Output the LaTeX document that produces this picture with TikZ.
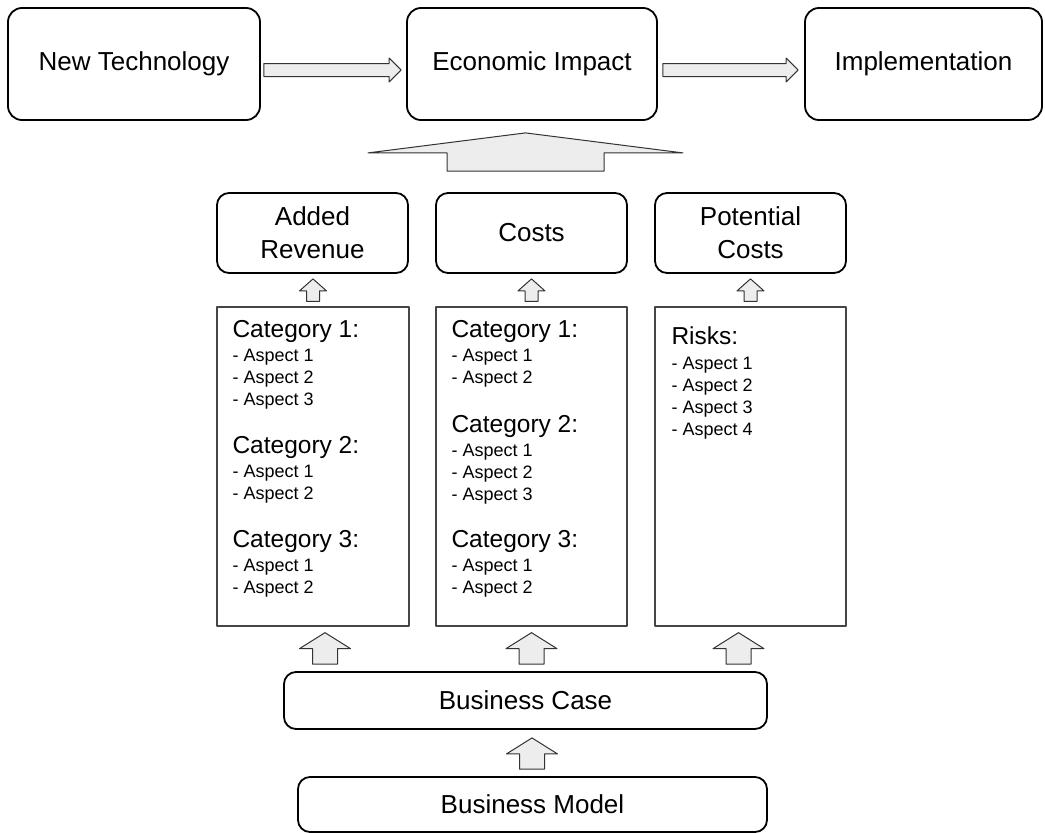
\documentclass[tikz,border=0pt]{standalone}
\usepackage{fontspec}
\setmainfont{Liberation Sans}
\usetikzlibrary{calc}
\definecolor{eeeeee}{rgb}{0.93,0.93,0.93}
\definecolor{sqsqsq}{rgb}{0.2,0.2,0.2}
\definecolor{zzzzzz}{rgb}{0.27,0.27,0.27}

% block arrows: #1 tail point, #2 tip point, #3 half shaft, #4 half head, #5 head length
\newcommand{\blockup}[5]{%
\draw[blockarrow] let \p1=(#1), \p2=(#2) in (\x1-#3,\y1) -- (\x1-#3,\y2-#5) -- (\x1-#4,\y2-#5) -- (\x1,\y2) -- (\x1+#4,\y2-#5) -- (\x1+#3,\y2-#5) -- (\x1+#3,\y1) -- cycle;}
\newcommand{\blockright}[5]{%
\draw[blockarrow] let \p1=(#1), \p2=(#2) in (\x1,\y1-#3) -- (\x2-#5,\y1-#3) -- (\x2-#5,\y1-#4) -- (\x2,\y1) -- (\x2-#5,\y1+#4) -- (\x2-#5,\y1+#3) -- (\x1,\y1+#3) -- cycle;}

\begin{document}
\begin{tikzpicture}[line cap=round,line join=round,x=1pt,y=-1pt,
  box/.style={draw=black,line width=1.8pt,rounded corners=14pt,align=center,inner sep=0pt,font=\fontsize{26}{33}\selectfont},
  listbox/.style={draw=zzzzzz,line width=1.3pt,inner sep=0pt},
  listhead/.style={anchor=base west,inner sep=0pt,font=\fontsize{24.5}{29}\selectfont},
  listitem/.style={anchor=base west,inner sep=0pt,font=\fontsize{18}{22}\selectfont},
  blockarrow/.style={draw=sqsqsq,line width=1pt,fill=eeeeee}]
\useasboundingbox (0,0) rectangle (1045,833);
% top row
\node[box,minimum width=252,minimum height=112] (nt) at (134,64) {New Technology};
\node[box,minimum width=250,minimum height=112] (ei) at (532,64) {Economic Impact};
\node[box,minimum width=237,minimum height=112] (impl) at (923.5,64) {Implementation};
\blockright{[xshift=3pt,yshift=-6pt]nt.east}{[xshift=-5pt]ei.west}{6.5pt}{12pt}{12pt}
\blockright{[xshift=5pt,yshift=-6pt]ei.east}{[xshift=-6pt]impl.west}{6.5pt}{12pt}{12pt}
% middle row
\node[box,rounded corners=12pt,minimum width=191,minimum height=80] (ar) at (312.5,233) {Added\\Revenue};
\node[box,rounded corners=12pt,minimum width=191,minimum height=80] (costs) at (531.5,233) {Costs};
\node[box,rounded corners=12pt,minimum width=191,minimum height=80] (pcosts) at (750.5,233) {Potential\\Costs};
\blockup{[xshift=-6pt,yshift=21pt]costs.north}{[yshift=-12pt]ei.south}{78.5pt}{157.5pt}{20pt}
% lists
\node[listbox,minimum width=192,minimum height=319] (arlist) at (313,466.5) {};
\node[listbox,minimum width=191,minimum height=319] (costlist) at (531.5,466.5) {};
\node[listbox,minimum width=191,minimum height=319] (risklist) at (750.5,466.5) {};
\foreach \n/\dy in {1/31,2/147,3/241}
  \node[listhead] (arhead\n) at ($(arlist.north west)+(16,\dy)$) {Category \n:};
\foreach \k/\n/\dy in {a/1/55,b/2/77,c/3/99,d/1/171,e/2/193,f/1/265,g/2/287}
  \node[listitem] (aritem\k) at ($(arlist.north west)+(16,\dy)$) {- Aspect \n};
\foreach \n/\dy in {1/31,2/126,3/241}
  \node[listhead] (costhead\n) at ($(costlist.north west)+(16,\dy)$) {Category \n:};
\foreach \k/\n/\dy in {a/1/55,b/2/77,c/1/150,d/2/172,e/3/194,f/1/265,g/2/287}
  \node[listitem] (costitem\k) at ($(costlist.north west)+(16,\dy)$) {- Aspect \n};
\node[listhead] (riskhead) at ($(risklist.north west)+(17,38)$) {Risks:};
\foreach \n/\dy in {1/63,2/85,3/107,4/129}
  \node[listitem] (riskitem\n) at ($(risklist.north west)+(17,\dy)$) {- Aspect \n};
\blockup{[yshift=5pt]arlist.north}{[yshift=-5pt]ar.south}{6.5pt}{13.5pt}{12pt}
\blockup{[yshift=5pt]costlist.north}{[yshift=-5pt]costs.south}{6.5pt}{13.5pt}{12pt}
\blockup{[yshift=5pt]risklist.north}{[yshift=-5pt]pcosts.south}{6.5pt}{13.5pt}{12pt}
% bottom
\node[box,rounded corners=12pt,minimum width=483,minimum height=57] (bcase) at (525.5,700.5) {Business Case};
\node[box,rounded corners=12pt,minimum width=469,minimum height=55] (bmodel) at (532.5,804.5) {Business Model};
\blockup{$(arlist.south |- bcase.north)+(12,-7)$}{[yshift=-6pt]arlist.south}{12.5pt}{25.5pt}{16pt}
\blockup{$(costlist.south |- bcase.north)+(0,-7)$}{[yshift=-6pt]costlist.south}{12.5pt}{25.5pt}{16pt}
\blockup{$(risklist.south |- bcase.north)+(-12,-7)$}{[yshift=-6pt]risklist.south}{12.5pt}{25.5pt}{16pt}
\blockup{$(bmodel.north)+(-0.5,-7)$}{[yshift=-8pt]bcase.south}{12.5pt}{25.5pt}{16pt}
\end{tikzpicture}
\end{document}
